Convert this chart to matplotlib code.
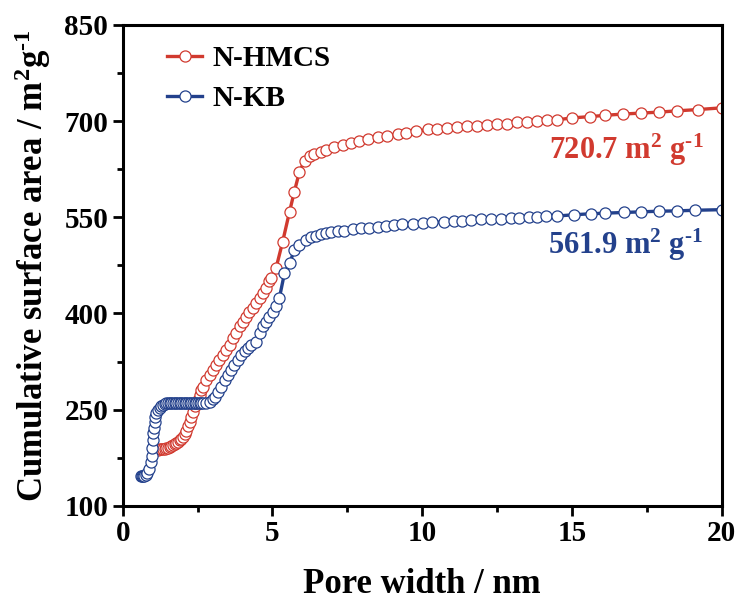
import matplotlib
matplotlib.use('Agg')
import matplotlib.pyplot as plt
import numpy as np

# ── Colors ──
C_RED = '#D13A2F'
C_BLUE = '#23418C'

plt.rcParams.update({
    'font.family': 'Liberation Serif',
    'font.weight': 'bold',
    'axes.labelweight': 'bold',
    'mathtext.fontset': 'custom',
    'mathtext.rm': 'Liberation Serif:bold',
    'mathtext.it': 'Liberation Serif:bold',
    'mathtext.bf': 'Liberation Serif:bold',
})

# N-HMCS (pore width nm, cumulative area m2/g)
hmcs_x = [1.05, 1.12, 1.18, 1.23, 1.29, 1.34, 1.40, 1.46, 1.51, 1.57, 1.62, 1.68, 1.74, 1.79,
          1.85, 1.90, 1.96, 2.01, 2.07, 2.12, 2.18, 2.23, 2.29, 2.34, 2.40, 2.46, 2.51, 2.57,
          2.62, 2.68, 2.79, 2.90, 3.01, 3.12, 3.23, 3.34, 3.46, 3.57, 3.68, 3.79, 3.90, 4.01,
          4.12, 4.23, 4.34, 4.46, 4.57, 4.68, 4.79, 4.90, 4.96, 5.12, 5.34, 5.57, 5.73, 5.90,
          6.07, 6.24, 6.40, 6.62, 6.79, 7.07, 7.34, 7.62, 7.90, 8.18, 8.51, 8.84, 9.18, 9.46,
          9.79, 10.18, 10.51, 10.84, 11.17, 11.50, 11.83, 12.16, 12.50, 12.83, 13.16, 13.50,
          13.83, 14.16, 14.50, 15.00, 15.60, 16.10, 16.70, 17.30, 17.90, 18.50, 19.20, 20.00]
hmcs_y = [186, 187, 187, 188, 188, 189, 189, 190, 191, 192, 193, 195, 196, 198,
          200, 203, 205, 208, 212, 216, 224, 231, 239, 247, 255, 260, 265, 273,
          280, 286, 296, 304, 312, 320, 328, 335, 343, 351, 361, 369, 380, 387,
          395, 403, 408, 416, 424, 432, 440, 450, 455, 471, 512, 559, 590, 621,
          638, 645, 649, 652, 655, 659, 663, 666, 669, 672, 675, 677, 680, 681,
          684, 687, 688, 689, 691, 692, 693, 694, 695, 696, 698, 699,
          700, 701, 702, 705, 707, 709, 711, 712.5, 714, 716, 718, 720.7]

# N-KB
kb_x = [0.60, 0.64, 0.68, 0.72, 0.76, 0.82, 0.88, 0.93, 0.96, 0.98, 1.00, 1.02, 1.04, 1.06,
        1.09, 1.12, 1.17, 1.23, 1.29, 1.34, 1.40, 1.46, 1.51, 1.57, 1.62, 1.68, 1.74, 1.79,
        1.85, 1.90, 1.96, 2.01, 2.07, 2.12, 2.18, 2.23, 2.29, 2.34, 2.40, 2.46, 2.51, 2.57,
        2.62, 2.68, 2.79, 2.90, 3.01, 3.07, 3.18, 3.29, 3.40, 3.51, 3.62, 3.73, 3.84, 3.96,
        4.07, 4.18, 4.29, 4.46, 4.57, 4.68, 4.79, 4.90, 5.01, 5.12, 5.23, 5.40, 5.57, 5.73,
        5.90, 6.12, 6.29, 6.46, 6.62, 6.79, 6.96, 7.18, 7.40, 7.68, 7.96, 8.23, 8.51, 8.79,
        9.07, 9.34, 9.68, 10.01, 10.34, 10.73, 11.07, 11.34, 11.62, 11.96, 12.29, 12.62,
        12.96, 13.23, 13.57, 13.84, 14.12, 14.51, 15.07, 15.62, 16.12, 16.73, 17.29, 17.90,
        18.51, 19.12, 20.00]
kb_y = [146, 146, 147, 147, 148, 152, 158, 168, 178, 190, 202, 213, 222, 230,
        238, 245, 250, 253, 256, 257, 259, 260, 260, 260, 260, 260, 260, 260,
        260, 260, 260, 260, 260, 260, 260, 260, 260, 260, 260, 260, 260, 260,
        260, 260, 261, 262, 266, 270, 278, 286, 296, 304, 312, 320, 328, 335,
        341, 346, 351, 356, 369, 380, 387, 395, 403, 411, 424, 463, 478, 499,
        507, 515, 519, 521, 524, 526, 527, 528, 529, 531, 533, 534, 535, 537,
        538, 539, 540, 541, 542, 543, 544, 545, 546, 547, 547.5, 548,
        549, 549.5, 550, 551, 551.5, 552, 554, 555.5, 556.5, 557.5, 558.5, 559.5,
        560, 561, 561.9]

fig = plt.figure(figsize=(7.44, 6.08), dpi=100)
ax = fig.add_axes([0.165, 0.168, 0.805, 0.791])

mk = dict(marker='o', markersize=8, markerfacecolor='white', markeredgewidth=0.9, linewidth=2.4)
ax.plot(hmcs_x, hmcs_y, color=C_RED, markeredgecolor=C_RED, label='N-HMCS', **mk)
ax.plot(kb_x, kb_y, color=C_BLUE, markeredgecolor=C_BLUE, label='N-KB', **mk)

ax.set_xlim(0, 20)
ax.set_ylim(100, 850)
ax.set_xticks(np.arange(0, 21, 5))
ax.set_xticks(np.arange(2.5, 20, 5), minor=True)
ax.set_yticks(np.arange(100, 851, 150))
ax.set_yticks(np.arange(175, 850, 150), minor=True)
ax.tick_params(which='both', direction='out', width=2, labelsize=21, top=False, right=False)
ax.tick_params(which='major', length=7)
ax.tick_params(which='minor', length=4)
for s in ax.spines.values():
    s.set_linewidth(2.2)

ax.set_xlabel('Pore width / nm', fontsize=25, labelpad=15)
ax.set_ylabel(r'Cumulative surface area / m$^{2}$g$^{\text{-}1}$', fontsize=25, labelpad=8)

ax.text(19.4, 655, r'720.7 m$^{2}$ g$^{\text{-}1}$', color=C_RED, fontsize=22, ha='right', va='center')
ax.text(19.4, 507, r'561.9 m$^{2}$ g$^{\text{-}1}$', color=C_BLUE, fontsize=22, ha='right', va='center')

ax.legend(loc='upper left', frameon=False, fontsize=21, numpoints=1, handlelength=1.2,
          handletextpad=0.35, labelspacing=0.45, borderaxespad=0.3, bbox_to_anchor=(0.04, 1.0))

fig.savefig('out.png', dpi=100)
